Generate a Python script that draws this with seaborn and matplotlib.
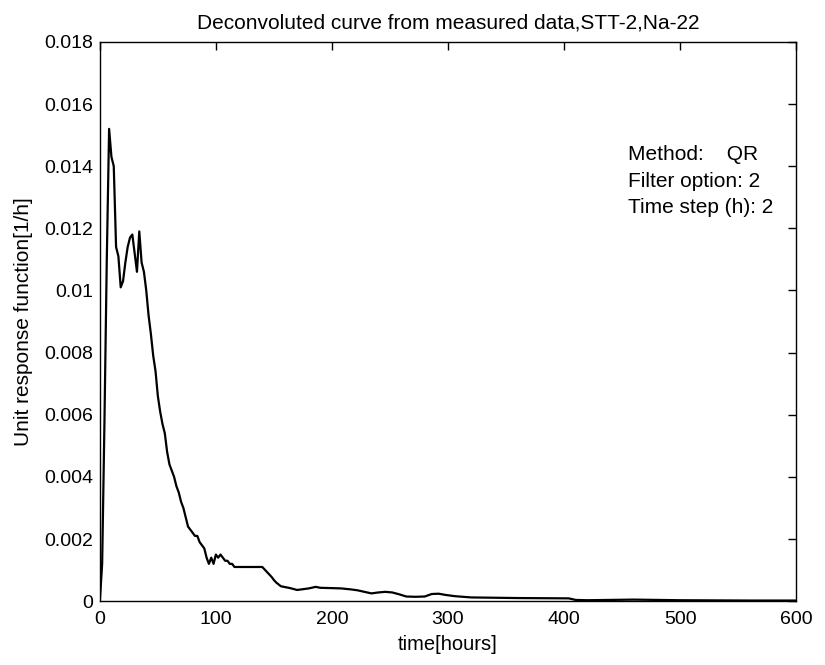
import matplotlib
matplotlib.use("Agg")
import matplotlib.pyplot as plt
import seaborn as sns
import pandas as pd
from matplotlib.ticker import FuncFormatter

time_h = [0, 2, 4, 6, 8, 10, 12, 14, 16, 18, 20, 22, 24, 26, 28, 30, 32, 34, 36, 38,
          40, 42, 44, 46, 48, 50, 52, 54, 56, 58, 60, 62, 64, 66, 68, 70, 72, 74, 76, 78,
          80, 82, 84, 86, 88, 90, 92, 94, 96, 98, 100, 102, 104, 106, 108, 110, 112, 114,
          116, 120, 130, 140, 144, 148, 150, 152, 156, 160, 164, 170, 174, 180, 186, 190,
          200, 208, 216, 222, 228, 234, 240, 246, 252, 258, 264, 272, 280, 286, 292, 298,
          306, 320, 360, 404, 410, 420, 460, 500, 560, 600]
response = [0.0, 0.0012, 0.0058, 0.0110, 0.0152, 0.0143, 0.0140, 0.0114, 0.0111, 0.0101,
            0.0103, 0.0109, 0.0114, 0.0117, 0.0118, 0.0112, 0.0106, 0.0119, 0.0109, 0.0106,
            0.0100, 0.0092, 0.0086, 0.0079, 0.0074, 0.0066, 0.0061, 0.0057, 0.0054, 0.0048,
            0.0044, 0.0042, 0.0040, 0.0037, 0.0035, 0.0032, 0.0030, 0.0027, 0.0024, 0.0023,
            0.0022, 0.0021, 0.0021, 0.0019, 0.0018, 0.0017, 0.0014, 0.0012, 0.0014, 0.0012,
            0.0015, 0.0014, 0.0015, 0.0014, 0.0013, 0.0013, 0.0012, 0.0012,
            0.0011, 0.0011, 0.0011, 0.0011, 0.00094, 0.00078, 0.00068, 0.0006, 0.00048, 0.00045,
            0.00042, 0.00036, 0.00038, 0.00041, 0.00046, 0.00043,
            0.00042, 0.00041, 0.00038, 0.00035, 0.0003, 0.00025, 0.00028, 0.0003, 0.00028, 0.00022,
            0.00015, 0.00014, 0.00015, 0.00023, 0.00024, 0.0002,
            0.00016, 0.00012, 0.0001, 0.00009, 0.00004, 0.00003, 0.00005, 0.00003, 0.00002, 0.00002]

x_ticks = [0, 100, 200, 300, 400, 500, 600]
y_ticks = [0, 0.002, 0.004, 0.006, 0.008, 0.01, 0.012, 0.014, 0.016, 0.018]
title = "Deconvoluted curve from measured data,STT-2,Na-22"
info_lines = ["Method:    QR", "Filter option: 2", "Time step (h): 2"]

sns.set_style("white")
plt.rcParams['font.family'] = ['Liberation Sans', 'DejaVu Sans']
plt.rcParams['text.color'] = 'black'
plt.rcParams['axes.labelcolor'] = 'black'

df = pd.DataFrame({"time": time_h, "resp": response})

fig = plt.figure(figsize=(8.25, 6.65), dpi=100)
ax = fig.add_axes([0.121, 0.096, 0.844, 0.841])
sns.lineplot(data=df, x="time", y="resp", ax=ax, color="black", linewidth=1.6, sort=False)

ax.set_xlim(0, 600)
ax.set_ylim(0, 0.018)
ax.set_xticks(x_ticks)
ax.set_yticks(y_ticks)
ax.yaxis.set_major_formatter(FuncFormatter(lambda v, p: "%g" % round(v, 4)))
ax.tick_params(direction="in", top=True, right=True, length=6, width=1,
               labelsize=14, colors="black", pad=5)
ax.tick_params(axis="x", pad=7)
for s in ax.spines.values():
    s.set_visible(True)
    s.set_color("black")
    s.set_linewidth(1.0)

ax.set_xlabel("time[hours]", fontsize=14.5, labelpad=5)
ax.set_ylabel("Unit response function[1/h]", fontsize=15, labelpad=8)
ax.set_title(title, fontsize=15, pad=10)

for i, line in enumerate(info_lines):
    ax.text(455, 0.01436 - i * 0.00085, line, fontsize=15, va="center", ha="left")

fig.savefig("out.png", dpi=100)
